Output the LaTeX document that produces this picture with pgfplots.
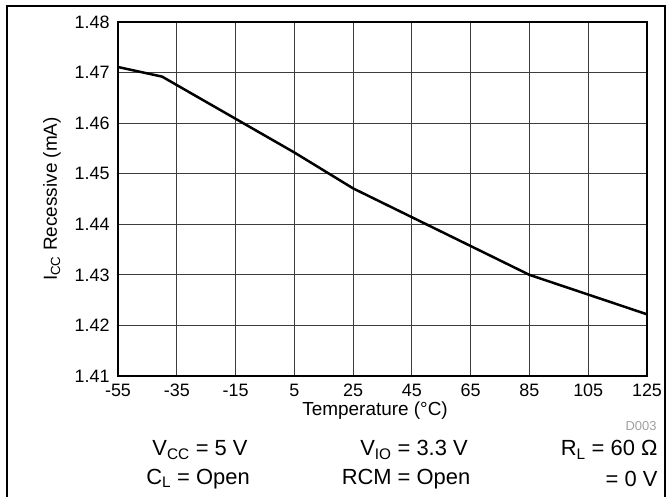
\documentclass[border=0pt]{standalone}
\usepackage{fontspec}
\setmainfont{Liberation Sans}
\usepackage{pgfplots}
\pgfplotsset{compat=1.18}
\definecolor{gridgray}{RGB}{60,60,60}
\definecolor{tagray}{RGB}{160,160,160}
\begin{document}
\begin{tikzpicture}[x=1bp,y=1bp]
\useasboundingbox (0,0) rectangle (671,-497);
% cell frame around the figure
\draw[line width=1.3bp] (7,-497) -- (7,-6) -- (665,-6) -- (665,-497);
\begin{axis}[
    at={(118bp,-376bp)}, anchor=south west,
    scale only axis, width=529bp, height=354bp,
    xmin=-55, xmax=125, ymin=1.41, ymax=1.48,
    xtick={-55,-35,-15,5,25,45,65,85,105,125},
    ytick={1.41,1.42,1.43,1.44,1.45,1.46,1.47,1.48},
    /pgf/number format/assume math mode=true,
    ticklabel style={font=\fontsize{18}{18}\selectfont},
    xticklabel style={yshift=-4bp, text height=13bp, text depth=0bp},
    yticklabel style={xshift=-5bp, /pgf/number format/.cd, fixed, fixed zerofill, precision=2},
    major tick length=0pt,
    grid=major,
    major grid style={gridgray, line width=0.9bp},
    axis line style={black, line width=2.6bp},
    xlabel={Temperature (°C)},
    ylabel={I\textsubscript{CC} Recessive (mA)},
    label style={font=\fontsize{19}{19}\selectfont},
    xlabel style={at={(axis description cs:0.486,-0.098)}, anchor=center},
    ylabel style={at={(axis description cs:-0.125,0.5)}, anchor=center},
]
\addplot[black, line width=2.5bp] coordinates {
    (-55, 1.4711) (-40, 1.4692) (5, 1.4542) (25, 1.4471)
    (65, 1.4357) (85, 1.4300) (125, 1.4222)
};
\end{axis}
\node[anchor=east, text=tagray, font=\fontsize{13}{13}\selectfont] at (660,-426) {D003};
\begin{scope}[every node/.style={font=\fontsize{22}{22}\selectfont}]
\node at (200,-450) {V\textsubscript{CC} = 5 V};
\node at (414,-450) {V\textsubscript{IO} = 3.3 V};
\node[anchor=east] at (661,-450) {R\textsubscript{L} = 60 Ω};
\node at (198,-479) {C\textsubscript{L} = Open};
\node at (406,-479) {RCM = Open};
\node[anchor=east] at (661,-479) {= 0 V};
\end{scope}
\end{tikzpicture}
\end{document}
